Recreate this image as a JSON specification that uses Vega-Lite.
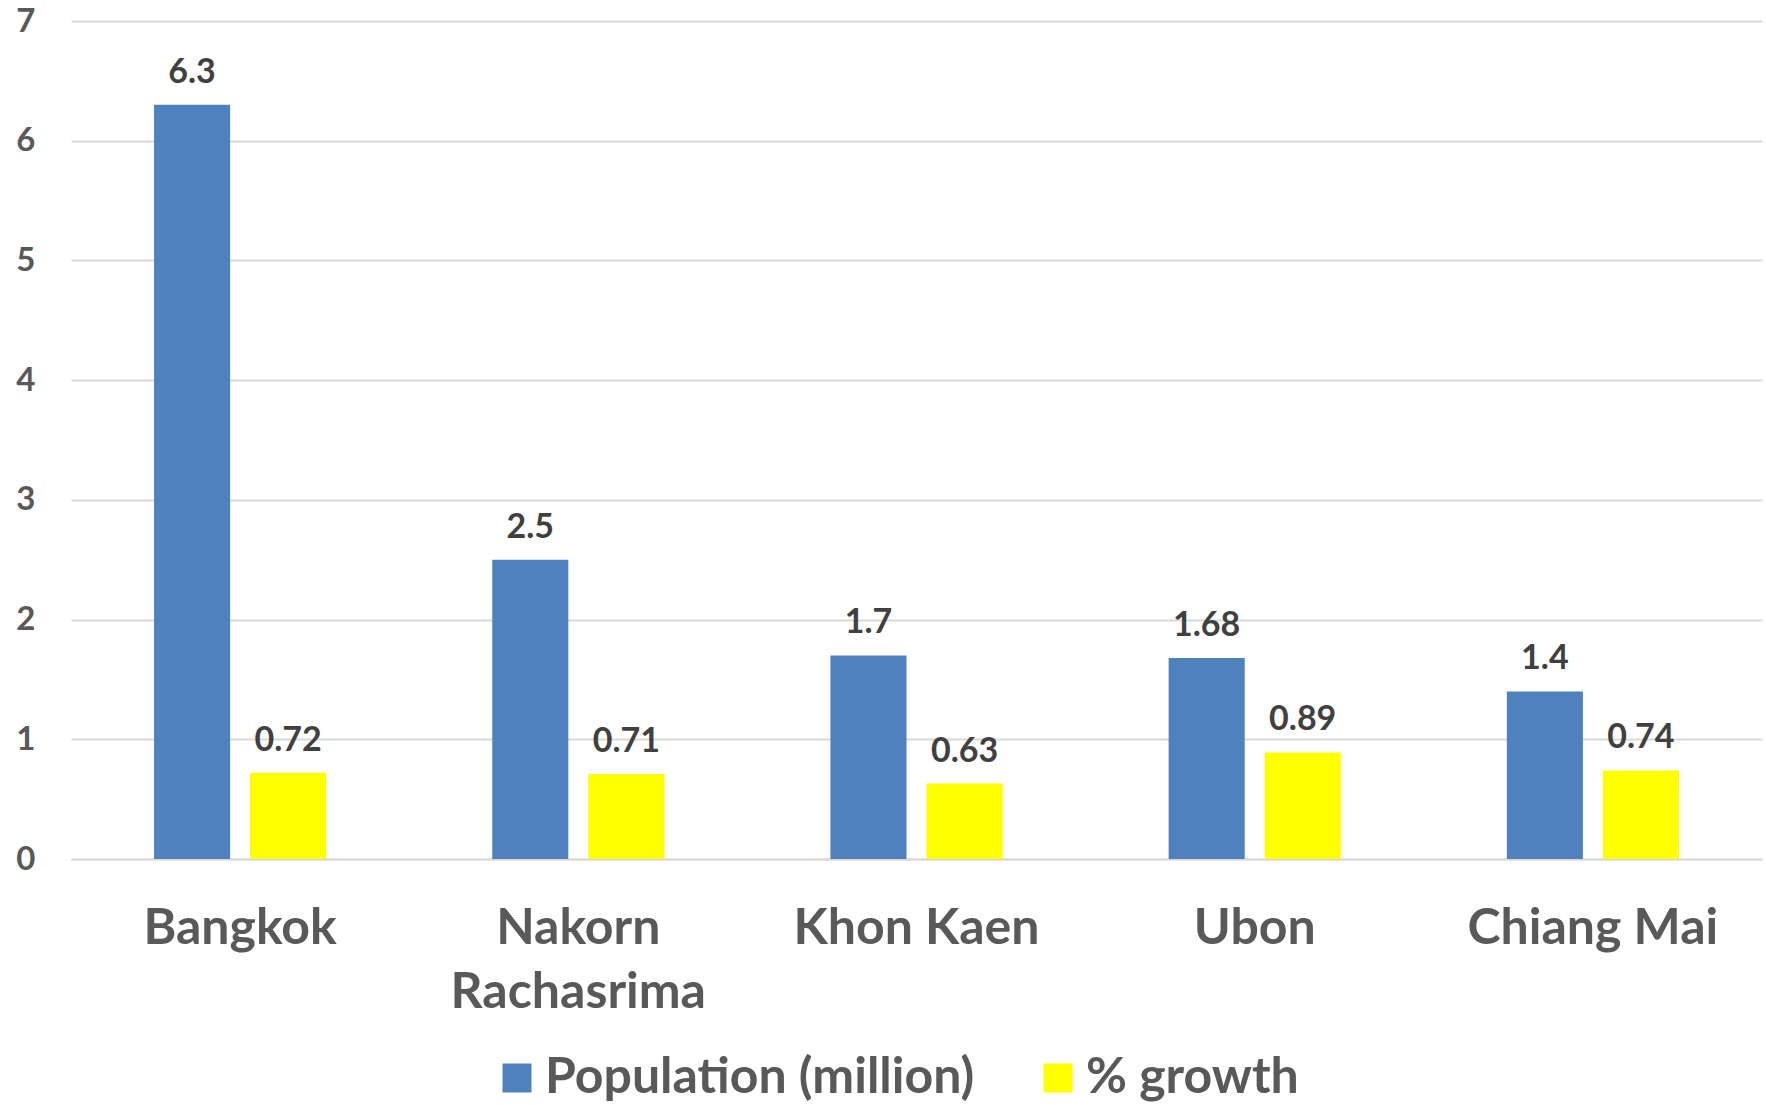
{
  "$schema": "https://vega.github.io/schema/vega-lite/v6.json",
  "width": 1691,
  "height": 838,
  "autosize": "none",
  "padding": {"left": 71, "top": 21, "right": 4, "bottom": 246},
  "background": "#ffffff",
  "config": {
    "view": {"stroke": null},
    "font": "Lato"
  },
  "data": {
    "values": [
      {"city": "Bangkok", "series": "Population (million)", "value": 6.3},
      {"city": "Bangkok", "series": "% growth", "value": 0.72},
      {"city": "Nakorn Rachasrima", "series": "Population (million)", "value": 2.5},
      {"city": "Nakorn Rachasrima", "series": "% growth", "value": 0.71},
      {"city": "Khon Kaen", "series": "Population (million)", "value": 1.7},
      {"city": "Khon Kaen", "series": "% growth", "value": 0.63},
      {"city": "Ubon", "series": "Population (million)", "value": 1.68},
      {"city": "Ubon", "series": "% growth", "value": 0.89},
      {"city": "Chiang Mai", "series": "Population (million)", "value": 1.4},
      {"city": "Chiang Mai", "series": "% growth", "value": 0.74}
    ]
  },
  "encoding": {
    "x": {
      "field": "city",
      "type": "nominal",
      "sort": ["Bangkok", "Nakorn Rachasrima", "Khon Kaen", "Ubon", "Chiang Mai"],
      "scale": {"paddingInner": 0.491, "paddingOuter": 0.2455},
      "axis": {
        "title": null,
        "labelAngle": 0,
        "ticks": false,
        "domainColor": "#d9d9d9",
        "domainWidth": 2,
        "labelFontSize": 50,
        "labelFontWeight": "bold",
        "labelColor": "#595959",
        "labelPadding": 44,
        "labelLineHeight": 64,
        "labelLimit": 600,
        "labelOverlap": false,
        "labelExpr": "datum.label == 'Nakorn Rachasrima' ? ['Nakorn', 'Rachasrima'] : datum.label"
      }
    },
    "xOffset": {
      "field": "series",
      "type": "nominal",
      "sort": ["Population (million)", "% growth"],
      "scale": {"paddingInner": 0.208, "paddingOuter": 0}
    },
    "y": {
      "field": "value",
      "type": "quantitative",
      "scale": {"domain": [0, 7], "nice": false},
      "axis": {
        "title": null,
        "values": [0, 1, 2, 3, 4, 5, 6, 7],
        "domain": false,
        "ticks": false,
        "gridColor": "#d9d9d9",
        "gridWidth": 2,
        "labelOverlap": false,
        "labelFontSize": 33,
        "labelFontWeight": "bold",
        "labelColor": "#595959",
        "labelPadding": 36
      }
    }
  },
  "layer": [
    {
      "mark": {"type": "bar"},
      "encoding": {
        "color": {
          "field": "series",
          "type": "nominal",
          "scale": {"domain": ["Population (million)", "% growth"], "range": ["#4f81bd", "#ffff00"]},
          "legend": {
            "title": null,
            "orient": "none",
            "legendX": 421,
            "legendY": 1032,
            "direction": "horizontal",
            "symbolType": "square",
            "symbolSize": 841,
            "symbolStrokeWidth": 0,
            "labelFontSize": 50,
            "labelFontWeight": "bold",
            "labelColor": "#595959",
            "labelOffset": 3,
            "columnPadding": 58,
            "labelLimit": 800
          }
        }
      }
    },
    {
      "mark": {"type": "text", "baseline": "alphabetic", "dy": -22, "fontSize": 34, "fontWeight": "bold", "color": "#404040"},
      "encoding": {
        "text": {"field": "value", "type": "quantitative"}
      }
    }
  ]
}
